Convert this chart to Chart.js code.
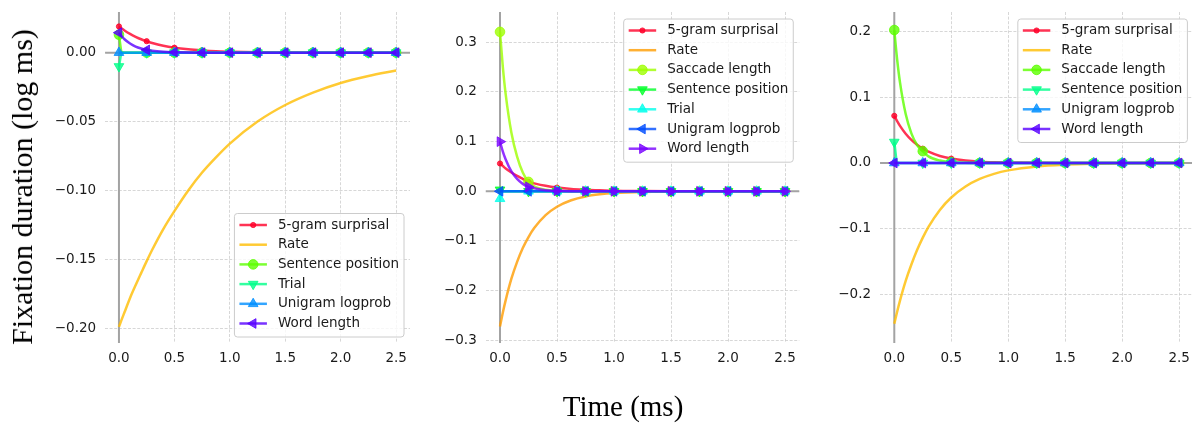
<!DOCTYPE html>
<html>
<head>
<meta charset="utf-8">
<script src="https://cdn.jsdelivr.net/npm/chart.js@4/dist/chart.umd.min.js"></script>
<style>
html,body{margin:0;padding:0;background:#fff;width:1192px;height:423px;overflow:hidden;position:relative}
.pane{position:absolute;top:0}
.pane canvas{display:block}
.lbl{position:absolute;font-family:"Liberation Serif","DejaVu Serif",serif;font-size:29px;color:#000;white-space:nowrap;line-height:1;transform:translate(-50%,-50%)}
#ylab{font-size:30px;transform:translate(-50%,-50%) rotate(-90deg)}
</style>
</head>
<body>
<div class="pane" style="left:0px"><canvas id="c1" width="420" height="423"></canvas></div>
<div class="pane" style="left:420px"><canvas id="c2" width="390" height="423"></canvas></div>
<div class="pane" style="left:810px"><canvas id="c3" width="390" height="423"></canvas></div>
<div class="lbl" id="ylab" style="left:21.7px;top:186.5px">Fixation duration (log ms)</div>
<div class="lbl" id="xlab" style="left:623px;top:406px">Time (ms)</div>
<script>
// ---------------- DATA ----------------
const TIME = [0, 0.025, 0.05, 0.1, 0.15, 0.2, 0.25, 0.3, 0.4, 0.5, 0.625, 0.75, 0.875, 1.0, 1.25, 1.5, 1.75, 2.0, 2.25, 2.5];
const X_TICKS = [0, 0.5, 1.0, 1.5, 2.0, 2.5];

// Panel 1
const P1_LABELS = ['5-gram surprisal', 'Rate', 'Sentence position', 'Trial', 'Unigram logprob', 'Word length'];
const P1_SURPRISAL = [0.019, 0.0175, 0.0161, 0.0136, 0.0115, 0.0097, 0.0083, 0.0070, 0.0050, 0.0036, 0.0024, 0.0016, 0.0010, 0.0007, 0.0003, 0.0001, 0, 0, 0, 0];
const P1_RATE = [-0.199, -0.1936, -0.1884, -0.178, -0.1688, -0.160, -0.1513, -0.143, -0.128, -0.115, -0.100, -0.087, -0.076, -0.066, -0.050, -0.038, -0.029, -0.022, -0.017, -0.013];
const P1_SENTPOS = [0.013, 0.0005, 0, 0, 0, 0, 0, 0, 0, 0, 0, 0, 0, 0, 0, 0, 0, 0, 0, 0];
const P1_TRIAL = [-0.010, -0.0004, 0, 0, 0, 0, 0, 0, 0, 0, 0, 0, 0, 0, 0, 0, 0, 0, 0, 0];
const P1_UNIGRAM = [0, 0, 0, 0, 0, 0, 0, 0, 0, 0, 0, 0, 0, 0, 0, 0, 0, 0, 0, 0];
const P1_WORDLEN = [0.0145, 0.0119, 0.0097, 0.0066, 0.0044, 0.0030, 0.0020, 0.0013, 0.0006, 0.0003, 0.0001, 0, 0, 0, 0, 0, 0, 0, 0, 0];
const P1_Y_TICKS = [-0.20, -0.15, -0.10, -0.05, 0.00];

// Panel 2
const P2_LABELS = ['5-gram surprisal', 'Rate', 'Saccade length', 'Sentence position', 'Trial', 'Unigram logprob', 'Word length'];
const P2_SURPRISAL = [0.056, 0.051, 0.046, 0.038, 0.031, 0.025, 0.019, 0.016, 0.011, 0.0075, 0.0045, 0.003, 0.002, 0.001, 0.0004, 0.0001, 0, 0, 0, 0];
const P2_RATE = [-0.272, -0.244, -0.219, -0.176, -0.142, -0.114, -0.092, -0.074, -0.048, -0.031, -0.018, -0.0104, -0.0061, -0.0035, -0.0012, -0.0004, -0.0001, 0, 0, 0];
const P2_SACCADE = [0.321, 0.25, 0.195, 0.118, 0.070, 0.038, 0.019, 0.010, 0.003, 0.001, 0.0003, 0, 0, 0, 0, 0, 0, 0, 0, 0];
const P2_SENTPOS = [0.003, 0, 0, 0, 0, 0, 0, 0, 0, 0, 0, 0, 0, 0, 0, 0, 0, 0, 0, 0];
const P2_TRIAL = [-0.015, -0.0006, 0, 0, 0, 0, 0, 0, 0, 0, 0, 0, 0, 0, 0, 0, 0, 0, 0, 0];
const P2_UNIGRAM = [0, 0, 0, 0, 0, 0, 0, 0, 0, 0, 0, 0, 0, 0, 0, 0, 0, 0, 0, 0];
const P2_WORDLEN = [0.100, 0.080, 0.064, 0.040, 0.025, 0.015, 0.009, 0.006, 0.002, 0.001, 0.0003, 0, 0, 0, 0, 0, 0, 0, 0, 0];
const P2_Y_TICKS = [-0.3, -0.2, -0.1, 0.0, 0.1, 0.2, 0.3];

// Panel 3
const P3_LABELS = ['5-gram surprisal', 'Rate', 'Saccade length', 'Sentence position', 'Unigram logprob', 'Word length'];
const P3_SURPRISAL = [0.072, 0.064, 0.0567, 0.0447, 0.0352, 0.0278, 0.0219, 0.0172, 0.0107, 0.0067, 0.0037, 0.0020, 0.0011, 0.0006, 0.0002, 0.0001, 0, 0, 0, 0];
const P3_RATE = [-0.2455, -0.227, -0.210, -0.180, -0.155, -0.133, -0.114, -0.0975, -0.0716, -0.0527, -0.0359, -0.0244, -0.0166, -0.0113, -0.0052, -0.0024, -0.0011, -0.0005, -0.0002, -0.0001];
const P3_SACCADE = [0.203, 0.158, 0.123, 0.0747, 0.0453, 0.0275, 0.0180, 0.0101, 0.0037, 0.0014, 0.0004, 0.0001, 0, 0, 0, 0, 0, 0, 0, 0];
const P3_SENTPOS = [0.032, 0.001, 0, 0, 0, 0, 0, 0, 0, 0, 0, 0, 0, 0, 0, 0, 0, 0, 0, 0];
const P3_UNIGRAM = [0, 0, 0, 0, 0, 0, 0, 0, 0, 0, 0, 0, 0, 0, 0, 0, 0, 0, 0, 0];
const P3_WORDLEN = [0, 0, 0, 0, 0, 0, 0, 0, 0, 0, 0, 0, 0, 0, 0, 0, 0, 0, 0, 0];
const P3_Y_TICKS = [-0.2, -0.1, 0.0, 0.1, 0.2];

// ---------------- STYLE ----------------
const COLORS6 = ['rgba(255,0,41,0.8)', 'rgba(255,189,0,0.8)', 'rgba(92,255,0,0.8)', 'rgba(0,255,137,0.8)', 'rgba(0,143,255,0.8)', 'rgba(87,0,255,0.8)'];
const COLORS7 = ['rgba(255,0,41,0.8)', 'rgba(255,156,0,0.8)', 'rgba(157,255,0,0.8)', 'rgba(0,255,40,0.8)', 'rgba(0,255,235,0.8)', 'rgba(0,77,255,0.8)', 'rgba(120,0,255,0.8)'];
const MARKERS = {
  dot: {style: 'circle', r: 2.6, rot: 0},
  none: null,
  circle: {style: 'circle', r: 4.8, rot: 0},
  down: {style: 'triangle', r: 5.6, rot: 180},
  up: {style: 'triangle', r: 5.6, rot: 0},
  left: {style: 'triangle', r: 5.6, rot: 270},
  right: {style: 'triangle', r: 5.6, rot: 90}
};
const MARKS6 = ['dot', 'none', 'circle', 'down', 'up', 'left'];
const MARKS7 = ['dot', 'none', 'circle', 'down', 'up', 'left', 'right'];
const FONT = '"DejaVu Sans", "Noto Sans", sans-serif';
const FS = 13.5;
const GRID_COLOR = '#cdcdcd';
const ZERO_COLOR = '#a3a3a3';
const LINE_W = 2.5;

function isMarkX(x) {
  if (x === undefined || x === null) return false;
  const k = x / 0.25;
  return Math.abs(k - Math.round(k)) < 1e-9;
}
function fmt(v, d) {
  const s = Math.abs(v).toFixed(d);
  return (v < -1e-12 ? '\u2212' : '') + s;
}
function drawMarker(ctx, m, x, y, color) {
  ctx.fillStyle = color; ctx.strokeStyle = color; ctx.lineWidth = 1;
  ctx.beginPath();
  if (m.style === 'circle') {
    ctx.arc(x, y, m.r, 0, Math.PI * 2);
  } else {
    let rad = m.rot * Math.PI / 180;
    ctx.moveTo(x + Math.sin(rad) * m.r, y - Math.cos(rad) * m.r);
    for (let k = 0; k < 2; k++) {
      rad += 2 * Math.PI / 3;
      ctx.lineTo(x + Math.sin(rad) * m.r, y - Math.cos(rad) * m.r);
    }
    ctx.closePath();
  }
  ctx.fill(); ctx.stroke();
}

const zeroLines = {
  id: 'zeroLines',
  beforeDatasetsDraw(chart) {
    const {ctx, chartArea: a, scales: {x, y}} = chart;
    const px = x.getPixelForValue(0), py = y.getPixelForValue(0);
    ctx.save();
    ctx.strokeStyle = ZERO_COLOR; ctx.lineWidth = 2;
    ctx.beginPath();
    ctx.moveTo(px, a.top); ctx.lineTo(px, a.bottom);
    ctx.moveTo(a.left, py); ctx.lineTo(a.right, py);
    ctx.stroke();
    ctx.restore();
  }
};

const boxLegend = {
  id: 'boxLegend',
  afterDatasetsDraw(chart, args, opts) {
    const ctx = chart.ctx, a = chart.chartArea;
    const ds = chart.data.datasets;
    ctx.save();
    ctx.font = FS + 'px ' + FONT;
    const rowH = 19.7, lineLen = 27.5, padL = 5.5, gap = 11, padR = 4.5;
    let tw = 0;
    ds.forEach(d => { tw = Math.max(tw, ctx.measureText(d.label).width); });
    const w = padL + lineLen + gap + tw + padR;
    const h = 12 + (ds.length - 1) * rowH + 13;
    const x = a.right - opts.margin - w;
    const y = opts.corner === 'br' ? a.bottom - opts.margin - h : a.top + opts.margin;
    ctx.beginPath();
    if (ctx.roundRect) ctx.roundRect(x + 0.5, y + 0.5, w, h, 3); else ctx.rect(x + 0.5, y + 0.5, w, h);
    ctx.fillStyle = 'rgba(255,255,255,0.8)';
    ctx.fill();
    ctx.strokeStyle = '#cccccc'; ctx.lineWidth = 1;
    ctx.stroke();
    ds.forEach((d, i) => {
      const cy = y + 12 + i * rowH;
      ctx.strokeStyle = d.borderColor; ctx.lineWidth = LINE_W;
      ctx.beginPath();
      ctx.moveTo(x + padL, cy); ctx.lineTo(x + padL + lineLen, cy);
      ctx.stroke();
      if (d.markerSpec) drawMarker(ctx, d.markerSpec, x + padL + lineLen / 2, cy, d.borderColor);
      ctx.fillStyle = '#1a1a1a';
      ctx.textBaseline = 'middle'; ctx.textAlign = 'left';
      ctx.fillText(d.label, x + padL + lineLen + gap, cy);
    });
    ctx.restore();
  }
};

function makePanel(id, cfg) {
  const n = cfg.series.length;
  const datasets = cfg.series.map((vals, i) => {
    const m = MARKERS[cfg.marks[i]];
    const col = cfg.colors[i];
    return {
      label: cfg.labels[i],
      data: TIME.map((t, j) => ({x: t, y: vals[j]})),
      borderColor: col,
      backgroundColor: col,
      borderWidth: LINE_W,
      fill: false,
      cubicInterpolationMode: 'monotone',
      pointStyle: m ? m.style : 'circle',
      pointRotation: m ? m.rot : 0,
      pointRadius: c => (m && c.raw && isMarkX(c.raw.x)) ? m.r : 0,
      pointHoverRadius: 0,
      pointBackgroundColor: col,
      pointBorderColor: col,
      pointBorderWidth: 1,
      order: n - i,
      markerSpec: m
    };
  });
  const tickFont = {family: FONT, size: FS};
  new Chart(document.getElementById(id), {
    type: 'line',
    data: {datasets},
    plugins: [zeroLines, boxLegend],
    options: {
      animation: false,
      responsive: false,
      devicePixelRatio: 1,
      events: [],
      layout: {padding: {left: 0, top: 12, right: cfg.padR, bottom: 0}},
      plugins: {
        legend: {display: false},
        tooltip: {enabled: false},
        boxLegend: {corner: cfg.legendCorner, margin: 6.5}
      },
      scales: {
        x: {
          type: 'linear', min: -0.125, max: 2.625,
          afterBuildTicks: s => { s.ticks = X_TICKS.map(v => ({value: v})); },
          afterFit: s => { s.height = 80; s.paddingLeft = 0; s.paddingRight = 0; s.paddingTop = 0; s.paddingBottom = 0; },
          grid: {color: GRID_COLOR, lineWidth: 0.8, drawTicks: false},
          border: {display: false, dash: [3, 1.6]},
          ticks: {padding: 7.5, color: '#1a1a1a', font: tickFont, autoSkip: false, maxRotation: 0, minRotation: 0,
                  callback: v => fmt(v, 1)}
        },
        y: {
          type: 'linear', min: cfg.yMin, max: cfg.yMax,
          afterBuildTicks: s => { s.ticks = cfg.yTicks.map(v => ({value: v})); },
          afterFit: s => { s.width = cfg.axisW; s.paddingLeft = 0; s.paddingRight = 0; s.paddingTop = 0; s.paddingBottom = 0; },
          grid: {color: GRID_COLOR, lineWidth: 0.8, drawTicks: false},
          border: {display: false, dash: [3, 1.6]},
          ticks: {padding: 9, color: '#1a1a1a', font: tickFont, autoSkip: false,
                  callback: v => fmt(v, cfg.yDec)}
        }
      }
    }
  });
}

makePanel('c1', {
  labels: P1_LABELS,
  series: [P1_SURPRISAL, P1_RATE, P1_SENTPOS, P1_TRIAL, P1_UNIGRAM, P1_WORDLEN],
  colors: COLORS6, marks: MARKS6,
  yMin: -0.2107, yMax: 0.0295, yTicks: P1_Y_TICKS, yDec: 2,
  axisW: 105.1, padR: 10, legendCorner: 'br'
});
makePanel('c2', {
  labels: P2_LABELS,
  series: [P2_SURPRISAL, P2_RATE, P2_SACCADE, P2_SENTPOS, P2_TRIAL, P2_UNIGRAM, P2_WORDLEN],
  colors: COLORS7, marks: MARKS7,
  yMin: -0.3054, yMax: 0.361, yTicks: P2_Y_TICKS, yDec: 1,
  axisW: 65.75, padR: 10.75, legendCorner: 'tr'
});
makePanel('c3', {
  labels: P3_LABELS,
  series: [P3_SURPRISAL, P3_RATE, P3_SACCADE, P3_SENTPOS, P3_UNIGRAM, P3_WORDLEN],
  colors: COLORS6, marks: MARKS6,
  yMin: -0.2748, yMax: 0.2305, yTicks: P3_Y_TICKS, yDec: 1,
  axisW: 70.05, padR: 6.45, legendCorner: 'tr'
});
</script>
</body>
</html>
